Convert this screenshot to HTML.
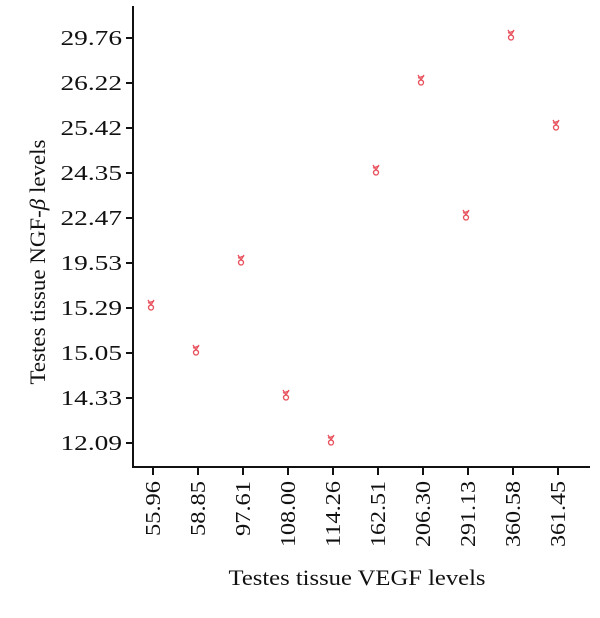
<!DOCTYPE html>
<html><head><meta charset="utf-8"><style>
html,body{margin:0;padding:0;background:#fff}
svg text{font-family:"Liberation Serif",serif;fill:#111}
</style></head><body>
<svg width="600" height="613" viewBox="0 0 600 613" xmlns="http://www.w3.org/2000/svg">
<g id="axes"></g>
<g id="marks"></g>
<text x="357" y="585" text-anchor="middle" font-size="22" textLength="257" lengthAdjust="spacingAndGlyphs">Testes tissue VEGF levels</text>
<text transform="translate(45,262) rotate(-90)" text-anchor="middle" font-size="22" textLength="245" lengthAdjust="spacingAndGlyphs">Testes tissue NGF-<tspan font-style="italic">β</tspan> levels</text>
</svg>
<script>
const xCategories=["55.96","58.85","97.61","108.00","114.26","162.51","206.30","291.13","360.58","361.45"];
const yCategories=["12.09","14.33","15.05","15.29","19.53","22.47","24.35","25.42","26.22","29.76"];
const pointY=["15.29","15.05","19.53","14.33","12.09","24.35","26.22","22.47","29.76","25.42"];
const NS="http://www.w3.org/2000/svg";
const axLeft=133,axBottom=467,x0=153,dx=45,y0=443,dy=45;
function xScale(c){return x0+xCategories.indexOf(c)*dx;}
function yScale(c){return y0-yCategories.indexOf(c)*dy;}
function mk(tag,attrs,parent){const e=document.createElementNS(NS,tag);for(const k in attrs)e.setAttribute(k,attrs[k]);parent.appendChild(e);return e;}
const axes=document.getElementById('axes'),marks=document.getElementById('marks');
const yl=mk('line',{x1:axLeft,y1:6,x2:axLeft,y2:axBottom,stroke:'#111','stroke-width':2},axes);


const xl=mk('line',{x1:axLeft-1,y1:axBottom,x2:590,y2:axBottom,stroke:'#111','stroke-width':2},axes);


yCategories.forEach(c=>{const y=yScale(c);
 mk('line',{x1:axLeft-7,y1:y,x2:axLeft,y2:y,stroke:'#111','stroke-width':2},axes);
 const t=mk('text',{x:axLeft-11,y:y+7,'text-anchor':'end','font-size':21,textLength:c.length*12.3,lengthAdjust:'spacingAndGlyphs'},axes);t.textContent=c;
 
 
});
xCategories.forEach(c=>{const x=xScale(c);
 mk('line',{x1:x,y1:axBottom,x2:x,y2:axBottom+8,stroke:'#111','stroke-width':2},axes);
 const t=mk('text',{transform:`translate(${x+7},${axBottom+14}) rotate(-90)`,'text-anchor':'end','font-size':21,textLength:c.length*11,lengthAdjust:'spacingAndGlyphs'},axes);t.textContent=c;
 
 
});
xCategories.forEach((c,i)=>{const x=xScale(c)-2,y=yScale(pointY[i])-3;
 const g=mk('g',{transform:`translate(${x},${y})`,stroke:'#e8505b',fill:'none','stroke-width':1.3},marks);
 
 
 mk('path',{d:'M-3,-5 L0,0 L3,-5 M-3,-2 L3,-4'},g);
 mk('circle',{cx:0,cy:2.5,r:2.5},g);
});
</script>
</body></html>
